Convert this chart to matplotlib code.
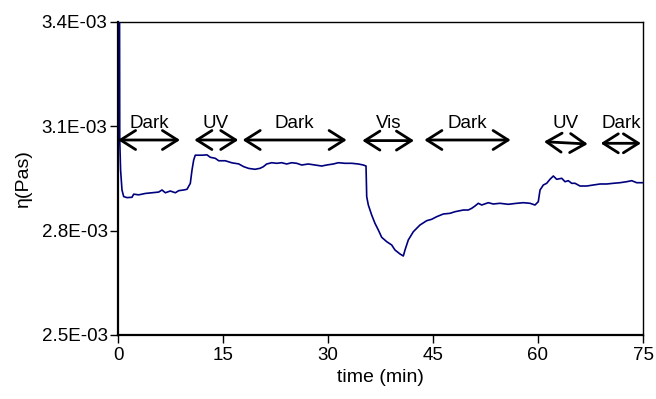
import matplotlib
matplotlib.use("Agg")
import matplotlib.pyplot as plt
import numpy as np
from matplotlib.ticker import FuncFormatter

# time (min) and viscosity (x1e-3 Pa s)
time_min = [0.20, 0.25, 0.37, 0.57, 0.81, 1.29, 2.00, 2.24, 2.96, 3.90, 4.86, 5.81, 6.29, 6.76,
            7.47, 8.19, 8.67, 9.39, 9.86, 10.33, 10.57, 10.81, 11.04, 12.00, 12.71, 13.19,
            13.90, 14.39, 15.33, 16.29, 17.24, 17.96, 18.67, 19.57, 20.29, 20.76, 21.24,
            21.96, 22.67, 23.39, 24.10, 24.81, 25.53, 26.24, 27.19, 28.14, 29.10, 29.81,
            30.76, 31.47, 32.43, 33.39, 34.33, 35.04, 35.43, 35.53, 35.76, 36.24, 36.71,
            37.19, 37.67, 38.39, 39.10, 39.57, 40.29, 40.76, 41.00, 41.47, 42.19, 43.14,
            44.10, 44.81, 45.53, 46.47, 47.43, 48.14, 49.33, 50.04, 50.53, 51.00, 51.47,
            51.96, 52.90, 53.61, 54.57, 55.76, 56.96, 57.90, 58.86, 59.57, 60.04, 60.29,
            60.76, 61.24, 61.71, 62.19, 62.67, 63.39, 63.86, 64.33, 64.81, 65.29, 66.00,
            66.96, 67.90, 68.86, 69.81, 70.76, 71.71, 72.67, 73.39, 74.10, 75.00]
eta_mpas = [3.700, 3.060, 2.974, 2.917, 2.898, 2.895, 2.896, 2.905, 2.903, 2.907, 2.909, 2.911,
            2.917, 2.909, 2.914, 2.909, 2.915, 2.917, 2.919, 2.936, 2.974, 3.003, 3.017, 3.017,
            3.018, 3.011, 3.008, 3.001, 3.001, 2.995, 2.992, 2.984, 2.979, 2.9765, 2.9793,
            2.9839, 2.9917, 2.9954, 2.9937, 2.9954, 2.9917, 2.9954, 2.9937, 2.9888, 2.9917,
            2.9888, 2.9859, 2.9888, 2.9917, 2.9954, 2.9937, 2.9937, 2.9917, 2.9888, 2.9859,
            2.8977, 2.8738, 2.8450, 2.8212, 2.8019, 2.7809, 2.7683, 2.7588, 2.7444, 2.7329,
            2.7272, 2.7444, 2.7732, 2.7970, 2.8163, 2.8287, 2.8327, 2.8402, 2.8479, 2.8499,
            2.8545, 2.8594, 2.8594, 2.8643, 2.8709, 2.8787, 2.8738, 2.8804, 2.8767, 2.8787,
            2.8758, 2.8787, 2.8804, 2.8787, 2.8738, 2.8833, 2.9169, 2.9313, 2.9362, 2.9477,
            2.9572, 2.9477, 2.9506, 2.9408, 2.9437, 2.9362, 2.9362, 2.9284, 2.9284, 2.9313,
            2.9342, 2.9342, 2.9362, 2.9379, 2.9408, 2.9437, 2.9379, 2.9379]

# illumination periods: label, start, end (min), arrow level (x1e-3 Pa s)
period_labels = ["Dark", "UV", "Dark", "Vis", "Dark", "UV", "Dark"]
period_start = [0.0, 10.9, 17.8, 34.9, 43.76, 60.86, 68.96]
period_end = [8.86, 17.19, 32.67, 42.29, 56.1, 67.1, 74.71]
arrow_y_start = [3.0607, 3.0607, 3.0607, 3.059, 3.0607, 3.0558, 3.0512]
arrow_y_end = [3.0607, 3.0607, 3.0607, 3.059, 3.0607, 3.0492, 3.0512]
label_x = [4.43, 14.0, 25.14, 38.67, 49.93, 64.0, 71.86]
label_y = 3.107

x_ticks = [0, 15, 30, 45, 60, 75]
y_ticks = [2.5e-3, 2.8e-3, 3.1e-3, 3.4e-3]

plt.rcParams['font.family'] = ['Liberation Sans', 'DejaVu Sans']

fig = plt.figure(figsize=(6.56, 3.99), dpi=100)
ax = fig.add_axes([118/656, 1-335/399, (643-118)/656, (335-22)/399])

t = np.array(time_min)
eta = np.array(eta_mpas) * 1e-3
ax.plot(t, eta, color='#00007f', lw=1.2, clip_on=True, zorder=3)

for lab, s, e, ys, ye, lx in zip(period_labels, period_start, period_end,
                                 arrow_y_start, arrow_y_end, label_x):
    ax.annotate('', xy=(e, ye*1e-3), xytext=(s, ys*1e-3),
                arrowprops=dict(arrowstyle='<->,head_length=0.6,head_width=0.38',
                                color='black', lw=2.0, shrinkA=0, shrinkB=0,
                                mutation_scale=18),
                annotation_clip=False, zorder=4)
    ax.text(lx, label_y*1e-3, lab, ha='center', va='center', fontsize=13.5, color='black')

ax.set_xlim(0, 75)
ax.set_ylim(2.5e-3, 3.4e-3)
ax.set_xticks(x_ticks)
ax.set_yticks(y_ticks)
ax.yaxis.set_major_formatter(FuncFormatter(lambda v, p: f"{v:.1E}"))
ax.tick_params(axis='both', direction='out', length=6, width=1, labelsize=13.5, colors='black')
ax.tick_params(axis='x', pad=3)
ax.tick_params(axis='y', pad=1.5)
for side in ['left', 'bottom']:
    ax.spines[side].set_linewidth(1.6)
for side in ['top', 'right']:
    ax.spines[side].set_linewidth(1.0)
ax.set_xlabel('time (min)', fontsize=14, labelpad=3)
ax.set_ylabel('η(Pas)', fontsize=14, labelpad=7)

fig.savefig('out.png', dpi=100)
